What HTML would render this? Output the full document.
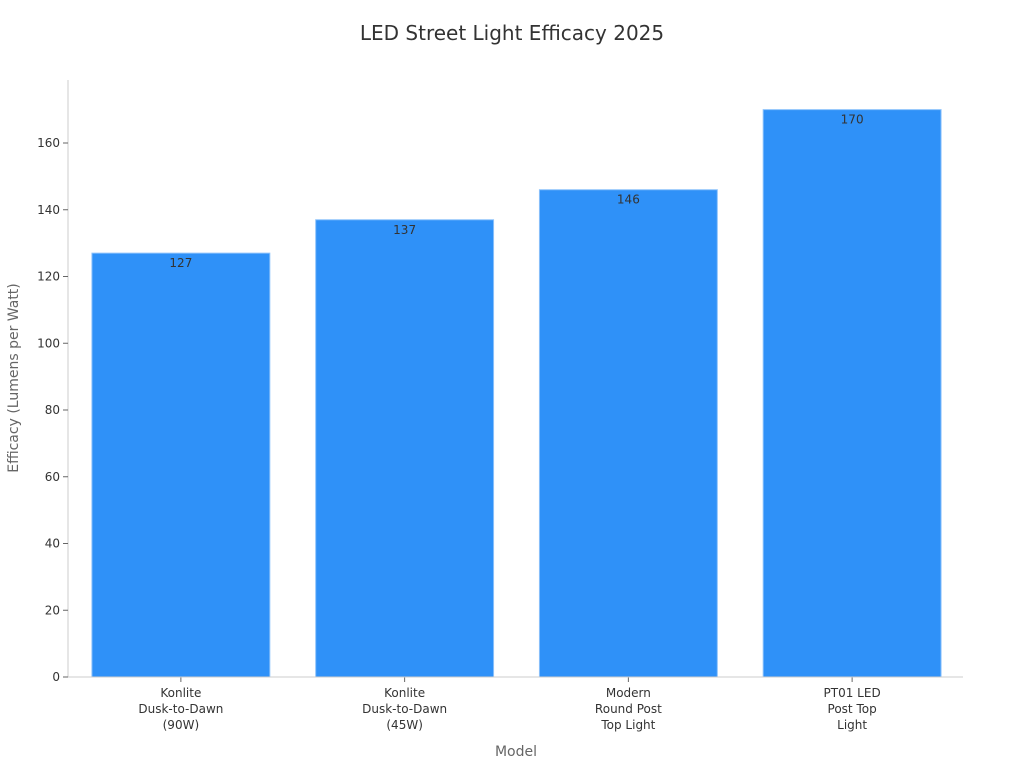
<!DOCTYPE html>
<html><head><meta charset="utf-8"><style>
body{margin:0;background:#fff;}
svg text{font-family:"DejaVu Sans","Liberation Sans",sans-serif;}
</style></head><body>
<svg id="chart" width="1024" height="768" xmlns="http://www.w3.org/2000/svg">
<text x="512" y="40" text-anchor="middle" font-size="20" fill="#333">LED Street Light Efficacy 2025</text>
<g id="yaxis"></g>
<g id="bars"></g>
<g id="xaxis"></g>
<text transform="translate(18,378) rotate(-90)" text-anchor="middle" font-size="14" fill="#666">Efficacy (Lumens per Watt)</text>
<text x="516" y="756" text-anchor="middle" font-size="14" fill="#666">Model</text>
</svg>
<script>
const categories=[["Konlite","Dusk-to-Dawn","(90W)"],["Konlite","Dusk-to-Dawn","(45W)"],["Modern","Round Post","Top Light"],["PT01 LED","Post Top","Light"]];
const values=[127,137,146,170];
const yTicks=[0,20,40,60,80,100,120,140,160];
const NS="http://www.w3.org/2000/svg";
const L=68,R=963,T=80,B=677;
const y=v=>B-v*(534/160);
const band=(R-L)/categories.length;
const bw=band*0.795;
function mk(tag,attrs,parent,text){const e=document.createElementNS(NS,tag);for(const k in attrs)e.setAttribute(k,attrs[k]);if(text!=null)e.textContent=text;parent.appendChild(e);return e;}
const ya=document.getElementById('yaxis'),xa=document.getElementById('xaxis'),bg=document.getElementById('bars');
const yl=mk('line',{x1:L,x2:L,y1:T,y2:B,stroke:'#ccc'},ya);


yTicks.forEach(t=>{
 const tk=mk('line',{x1:L-5,x2:L,y1:y(t),y2:y(t),stroke:'#666'},ya);
 
 
 const tl=mk('text',{x:L-8,y:y(t)+4,'text-anchor':'end','font-size':12,fill:'#333'},ya,t);
 
 
});
values.forEach((v,i)=>{
 const cx=L+1+band*(i+0.5);
 const r=mk('rect',{x:cx-bw/2,y:y(v),width:bw,height:B-y(v),fill:'#2f91f8',stroke:'#8cc2fb','stroke-width':1},bg);
 
 
 const lb=mk('text',{x:cx,y:y(v)+14,'text-anchor':'middle','font-size':12,fill:'#333'},bg,v);
 
 
 const tk=mk('line',{x1:cx,x2:cx,y1:B,y2:B+5,stroke:'#666'},xa);
 
 
 categories[i].forEach((s,j)=>{
  const t=mk('text',{x:cx,y:B+20+j*16,'text-anchor':'middle','font-size':12,fill:'#333'},xa,s);
  
  
 });
});
const xl=mk('line',{x1:L,x2:R,y1:B,y2:B,stroke:'#ccc'},xa);


</script>
</body></html>
